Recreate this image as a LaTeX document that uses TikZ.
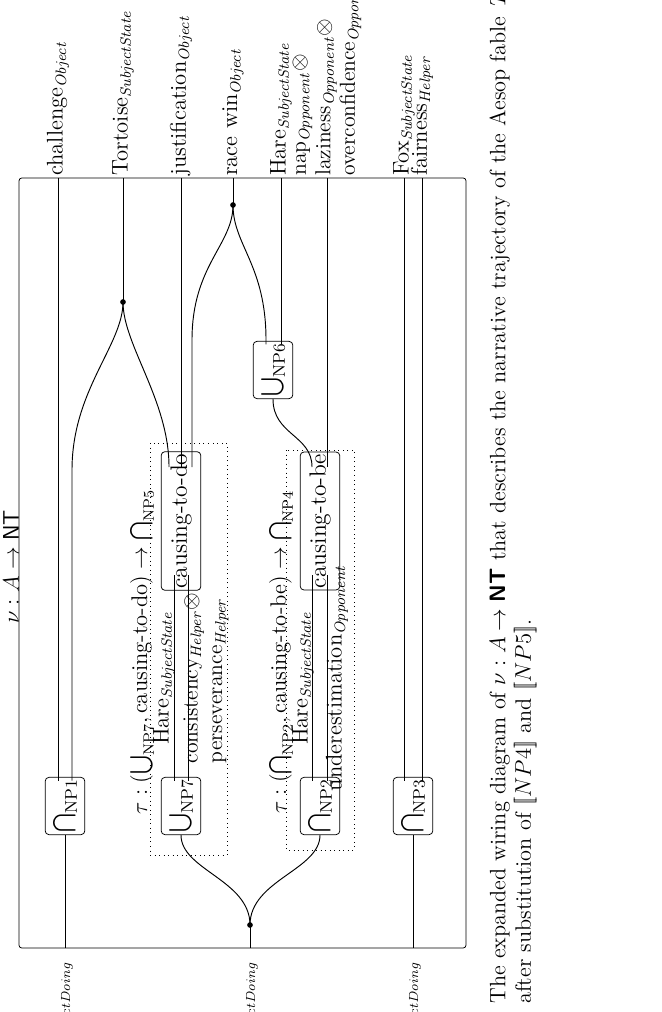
\documentclass[tikz,border=0pt]{standalone}
\usepackage{amsmath}
\usetikzlibrary{calc}
\begin{document}
\begin{tikzpicture}[x=0.53pt,y=-0.53pt,
  box/.style={draw,rounded corners=2pt,rotate=90,inner sep=1pt,minimum height=21pt,font=\fontsize{12.5}{14}\selectfont},
  sbox/.style={box,minimum width=26.5pt},
  lbox/.style={box,minimum width=57pt},
  wire/.style={line width=0.5pt},
  lab/.style={rotate=90,font=\fontsize{12}{14}\selectfont,inner sep=1pt},
  dotn/.style={circle,fill,inner sep=0pt,minimum size=3pt}]
\useasboundingbox (0,0) rectangle (661,1012);
\draw[rounded corners=1.5pt] (19,178) rectangle (466,948);
\node[lab] (nu) at (11,567) {$\nu : A \to \textsf{NT}$};
% boxes
\node[sbox] (np1) at (65,806) {$\bigcap_{\mathrm{NP1}}$};
\node[sbox] (np7) at (181,806) {$\bigcup_{\mathrm{NP7}}$};
\node[sbox] (np2) at (320,806) {$\bigcap_{\mathrm{NP2}}$};
\node[sbox] (np3) at (413,806) {$\bigcap_{\mathrm{NP3}}$};
\node[lbox] (ctd) at (181,521) {causing-to-do};
\node[lbox] (ctb) at (320,521) {causing-to-be};
\node[sbox] (np6) at (273,370) {$\bigcup_{\mathrm{NP6}}$};
\draw[dotted] (150,443) rectangle (227,855);
\draw[dotted] (286,450) rectangle (354,850);
% dots
\node[dotn] (dt) at (123,302) {};
\node[dotn] (dr) at (233,205) {};
\node[dotn] (ds) at (250,925) {};
% top coordinates
\coordinate (t1) at (58,178); \coordinate (t2) at (123,178); \coordinate (t3) at (181,178);
\coordinate (t4) at (233,178); \coordinate (t5) at (281,178); \coordinate (t6) at (327,178);
\coordinate (t7) at (404,178); \coordinate (t8) at (422,178);
\coordinate (b1) at (65,948); \coordinate (b2) at (250,948); \coordinate (b3) at (413,948);
% wires
\draw[wire] (b1) -- (np1.west);
\draw[wire] ($(np1.center)+(-7,-25.5)$) -- (t1);
\draw[wire] ($(np1.center)+(7,-25.5)$) -- (72,470) .. controls (72,390) and (123,345) .. (dt.center);
\draw[wire] ($(ctd.center)+(-12,-54)$) .. controls (169,400) and (123,345) .. (dt.center);
\draw[wire] (dt.center) -- (t2);
\draw[wire] ($(ctd.center)+(0,-54)$) -- (t3);
\draw[wire] ($(ctd.center)+(11,-54)$) -- (192,340) .. controls (192,265) and (233,245) .. (dr.center);
\draw[wire] ($(np6.center)+(-7,-25.5)$) -- (266,340) .. controls (266,265) and (233,245) .. (dr.center);
\draw[wire] (dr.center) -- (t4);
\draw[wire] ($(np6.center)+(8,-25.5)$) -- (t5);
\draw[wire] (np6.west) .. controls (273,435) and (312,435) .. ($(ctb.center)+(-8,-54)$);
\draw[wire] ($(ctb.center)+(7,-54)$) -- (t6);
\draw[wire] ($(np7.center)+(-7,-25.5)$) -- ($(ctd.center)+(-7,54)$);
\draw[wire] ($(np7.center)+(7,-25.5)$) -- ($(ctd.center)+(7,54)$);
\draw[wire] ($(np2.center)+(-8,-25.5)$) -- ($(ctb.center)+(-8,54)$);
\draw[wire] ($(np2.center)+(7,-25.5)$) -- ($(ctb.center)+(7,54)$);
\draw[wire] ($(np3.center)+(-9,-25.5)$) -- (t7);
\draw[wire] ($(np3.center)+(9,-25.5)$) -- (t8);
\draw[wire] (np3.west) -- (b3);
\draw[wire] (b2) -- (ds.center);
\draw[wire] (ds.center) .. controls (250,880) and (181,870) .. (np7.west);
\draw[wire] (ds.center) .. controls (250,880) and (320,870) .. (np2.west);
% top labels
\node[lab,anchor=west] at (t1) {challenge$_{\mathit{Object}}$};
\node[lab,anchor=west] at (t2) {Tortoise$_{\mathit{SubjectState}}$};
\node[lab,anchor=west] at (t3) {justification$_{\mathit{Object}}$};
\node[lab,anchor=west] at (t4) {race win$_{\mathit{Object}}$};
\node[lab,anchor=west] at (t5) {Hare$_{\mathit{SubjectState}}$};
\node[lab,anchor=west,align=left,font=\fontsize{11.5}{13}\selectfont] at (t6) {nap$_{\mathit{Opponent}}\otimes$\\laziness$_{\mathit{Opponent}}\otimes$\\overconfidence$_{\mathit{Opponent}}$};
\node[lab,anchor=west] at (t7) {Fox$_{\mathit{SubjectState}}$};
\node[lab,anchor=west] at (t8) {fairness$_{\mathit{Helper}}$};
% inner labels
\node[lab] at (142,652) {$\tau : (\bigcup_{\mathrm{NP7}}, \text{causing-to-do}) \to \bigcap_{\mathrm{NP5}}$};
\node[lab] at (281,652) {$\tau : (\bigcap_{\mathrm{NP2}}, \text{causing-to-be}) \to \bigcap_{\mathrm{NP4}}$};
\node[lab] at (164,678) {Hare$_{\mathit{SubjectState}}$};
\node[lab] at (303,678) {Hare$_{\mathit{SubjectState}}$};
\node[lab,align=left,font=\fontsize{11.5}{13}\selectfont] at (206,678) {consistency$_{\mathit{Helper}}\otimes$\\perseverance$_{\mathit{Helper}}$};
\node[lab] at (337,678) {underestimation$_{\mathit{Opponent}}$};
% bottom labels (cut in the reference)
\node[lab,anchor=east,font=\scriptsize] at (67,960) {$\mathit{jectDoing}$};
\node[lab,anchor=east,font=\scriptsize] at (252,960) {$\mathit{jectDoing}$};
\node[lab,anchor=east,font=\scriptsize] at (415,960) {$\mathit{jectDoing}$};
% caption
\node[rotate=90,anchor=north west,align=left,inner sep=0pt,font=\fontsize{11.8}{13.5}\selectfont] (cap) at (489,1004) {The expanded wiring diagram of $\nu : A \to \textsf{\textbf{NT}}$ that describes the narrative trajectory of the Aesop fable \textit{The Hare}\\after substitution of $[\![NP4]\!]$ and $[\![NP5]\!]$.};
\end{tikzpicture}
\end{document}
